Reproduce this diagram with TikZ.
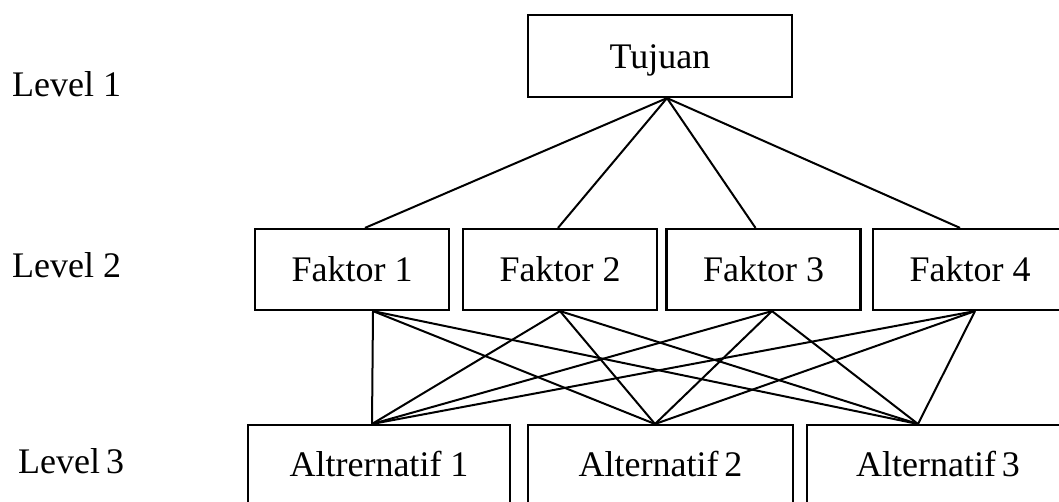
\documentclass[tikz,border=0pt]{standalone}
\usepackage{fontspec}
\setmainfont{Liberation Serif}
\begin{document}
\begin{tikzpicture}[x=1pt,y=-1pt,
  box/.style={draw,line width=2.2pt,inner sep=0pt,text height=25pt,text depth=0pt,
    font=\fontsize{36}{42}\selectfont},
  lvl/.style={anchor=base west,inner sep=0pt,font=\fontsize{36}{42}\selectfont},
  conn/.style={line width=2pt}]
\useasboundingbox (0,0) rectangle (1059,502);
\clip (0,0) rectangle (1059,502);
\fill[white] (0,0) rectangle (1059,502);
% level labels
\node[lvl] (l1) at (12,97) {Level 1};
\node[lvl] (l2) at (12,278) {Level 2};
\node[lvl] (l3) at (18,473) {Level\,3};
% boxes
\node[box,minimum width=264pt,minimum height=82pt] (t) at (660,56) {Tujuan};
\node[box,minimum width=194pt,minimum height=81pt] (f1) at (352,269.5) {Faktor 1};
\node[box,minimum width=194pt,minimum height=81pt] (f2) at (560,269.5) {Faktor 2};
\node[box,minimum width=194pt,minimum height=81pt] (f3) at (763.5,269.5) {Faktor 3};
\node[box,minimum width=194pt,minimum height=81pt] (f4) at (970,269.5) {Faktor 4};
\node[box,anchor=north,minimum width=262pt,minimum height=100pt,text depth=23pt] (a1) at (379,424) {Altrernatif 1};
\node[box,anchor=north,minimum width=265pt,minimum height=100pt,text depth=23pt] (a2) at (660.5,424) {Alternatif\,2};
\node[box,anchor=north,minimum width=262pt,minimum height=100pt,text depth=23pt] (a3) at (938,424) {Alternatif\,3};
% connection points
\coordinate (tp) at ([xshift=7pt]t.south);
\coordinate (f1t) at ([xshift=13pt]f1.north);
\coordinate (f2t) at ([xshift=-2pt]f2.north);
\coordinate (f3t) at ([xshift=-8pt]f3.north);
\coordinate (f4t) at ([xshift=-10pt]f4.north);
\coordinate (f1b) at ([xshift=21pt]f1.south);
\coordinate (f2b) at ([xshift=0pt]f2.south);
\coordinate (f3b) at ([xshift=8.5pt]f3.south);
\coordinate (f4b) at ([xshift=5pt]f4.south);
\coordinate (a1t) at ([xshift=-7pt]a1.north);
\coordinate (a2t) at ([xshift=-5.5pt]a2.north);
\coordinate (a3t) at ([xshift=-20pt]a3.north);
% connectors
\foreach \f in {f1t,f2t,f3t,f4t} \draw[conn] (tp) -- (\f);
\foreach \f in {f1b,f2b,f3b,f4b}
  \foreach \a in {a1t,a2t,a3t} \draw[conn] (\f) -- (\a);
\end{tikzpicture}
\end{document}
